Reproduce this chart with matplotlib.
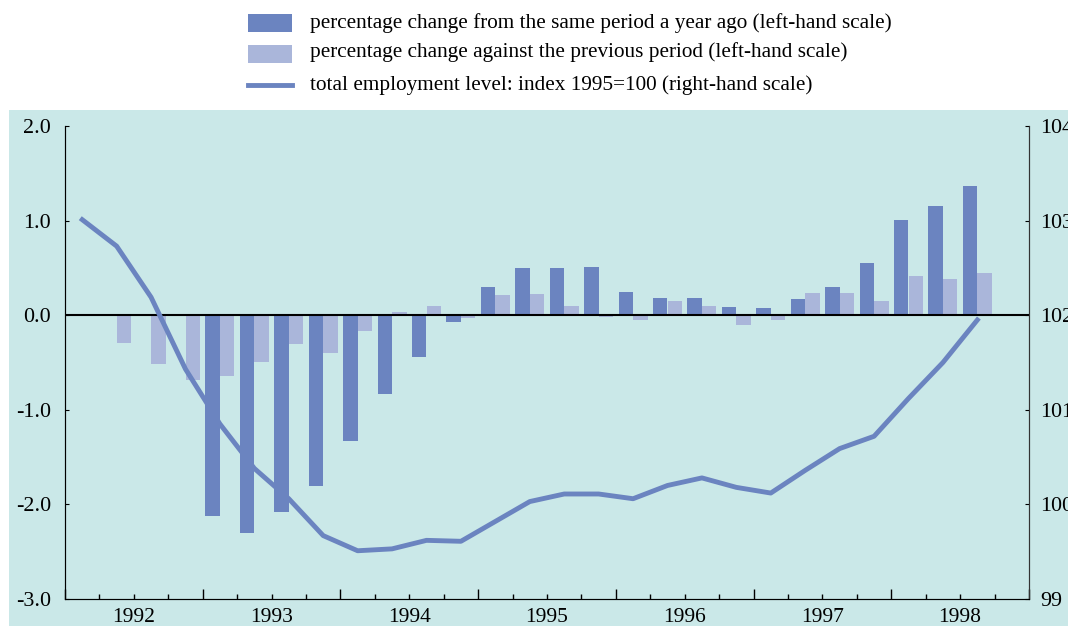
import numpy as np
import matplotlib
matplotlib.use("Agg")
import matplotlib.pyplot as plt
from matplotlib.patches import Rectangle
from matplotlib.lines import Line2D
from matplotlib.ticker import FixedLocator

plt.rcParams['font.family'] = ['Liberation Serif', 'DejaVu Serif']
plt.rcParams['axes.unicode_minus'] = False

# quarterly data 1992Q1 .. 1998Q3
quarters = np.arange(27)
years = ['1992', '1993', '1994', '1995', '1996', '1997', '1998']

# year-on-year % change (no value for 1992)
yoy = [np.nan, np.nan, np.nan, np.nan,
       -2.12, -2.30, -2.08, -1.81,
       -1.33, -0.83, -0.44, -0.07,
       0.30, 0.50, 0.50, 0.505,
       0.25, 0.18, 0.18, 0.085,
       0.075, 0.17, 0.30, 0.55,
       1.01, 1.15, 1.37]

# quarter-on-quarter % change
qoq = [np.nan, -0.29, -0.52, -0.68,
       -0.64, -0.49, -0.30, -0.40,
       -0.165, 0.03, 0.095, -0.03,
       0.21, 0.22, 0.095, -0.02,
       -0.05, 0.145, 0.095, -0.105,
       -0.055, 0.23, 0.23, 0.145,
       0.41, 0.38, 0.45]

# employment index 1995=100
level = [103.01, 102.73, 102.19, 101.43,
         100.85, 100.38, 100.06, 99.67,
         99.51, 99.53, 99.62, 99.61,
         99.82, 100.03, 100.11, 100.11,
         100.06, 100.20, 100.28, 100.18,
         100.12, 100.36, 100.59, 100.72,
         101.12, 101.50, 101.95]

dark = '#6b84c0'
light = '#aab6da'
bg = '#cae8e8'

x = 1992 + (quarters + 0.5) / 4.0
w = 0.105

fig = plt.figure(figsize=(10.68, 6.26), dpi=100)
# cyan panel behind the plot
fig.patches.append(Rectangle((9 / 1068, 0), 1 - 9 / 1068, 1 - 110 / 626,
                             transform=fig.transFigure, facecolor=bg,
                             edgecolor='none', zorder=-5))

ax = fig.add_axes([65 / 1068, 27 / 626, (1029 - 65) / 1068, (599 - 126) / 626])
ax.set_facecolor('none')
ax.bar(x - w / 2, yoy, width=w, color=dark, zorder=2)
ax.bar(x + w / 2, qoq, width=w, color=light, zorder=2)
ax.axhline(0, color='black', lw=1.5, zorder=3)

ax.set_xlim(1992, 1999)
ax.set_ylim(-3, 2)
ax.set_yticks([-3, -2, -1, 0, 1, 2])
ax.set_yticklabels(['-3.0', '-2.0', '-1.0', '0.0', '1.0', '2.0'])
ax.xaxis.set_major_locator(FixedLocator(np.arange(1992, 2000)))
ax.xaxis.set_minor_locator(FixedLocator([1992 + q / 4 for q in range(29) if q % 4]))
ax.set_xticklabels([])
for i, yr in enumerate(years):
    ax.text(1992.5 + i, -0.018, yr, transform=ax.get_xaxis_transform(),
            ha='center', va='top', fontsize=15.5)

ax.tick_params(axis='x', which='major', direction='in', length=7, width=1)
ax.tick_params(axis='x', which='minor', direction='in', length=3.5, width=1)
ax.tick_params(axis='y', direction='in', length=3, labelsize=15.8, pad=10)
ax.spines['top'].set_visible(False)
for s in ['left', 'bottom', 'right']:
    ax.spines[s].set_color('#333333')

ax2 = ax.twinx()
ax2.plot(x, level, color=dark, lw=3.5, zorder=4)
ax2.set_ylim(99, 104)
ax2.set_yticks([99, 100, 101, 102, 103, 104])
ax2.tick_params(axis='y', direction='in', length=3, labelsize=15.8, pad=8)
ax2.spines['top'].set_visible(False)
ax2.spines['right'].set_color('#333333')

# legend at the top
labels = ['percentage change from the same period a year ago (left-hand scale)',
          'percentage change against the previous period (left-hand scale)',
          'total employment level: index 1995=100 (right-hand scale)']
rows = [23, 52, 85]
fig.patches.append(Rectangle((248 / 1068, 1 - 32 / 626), 44 / 1068, 18 / 626,
                             transform=fig.transFigure, facecolor=dark, edgecolor='none'))
fig.patches.append(Rectangle((248 / 1068, 1 - 63 / 626), 44 / 1068, 18 / 626,
                             transform=fig.transFigure, facecolor=light, edgecolor='none'))
fig.add_artist(Line2D([248 / 1068, 292 / 1068], [1 - 85 / 626, 1 - 85 / 626],
                      transform=fig.transFigure, color=dark, lw=3.5))
for lab, r in zip(labels, rows):
    fig.text(310 / 1068, 1 - r / 626, lab, ha='left', va='center', fontsize=15.3)

fig.savefig('out.png', dpi=100)
